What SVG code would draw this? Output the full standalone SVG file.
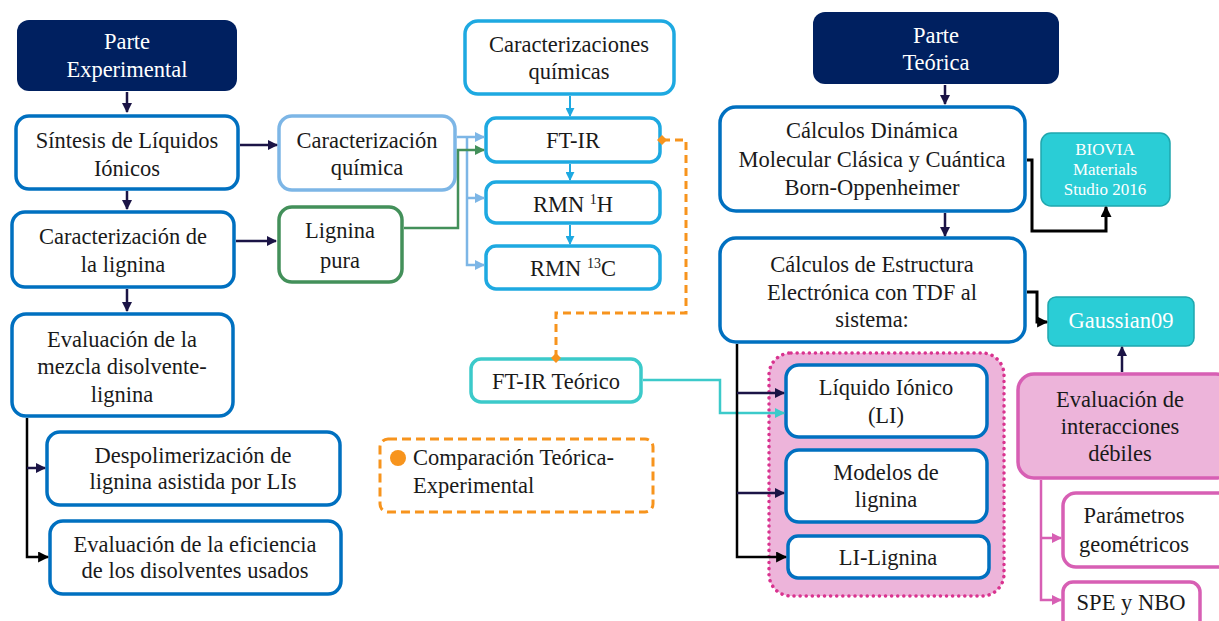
<svg xmlns="http://www.w3.org/2000/svg" width="1219" height="621" viewBox="0 0 1219 621" font-family="'Liberation Serif', serif">
<defs>
<style>
text{font-family:'Liberation Serif', serif;font-size:22.5px;fill:#1a1a1a;text-anchor:middle}
.w{fill:#ffffff}
.sm{font-size:17px}
.head{fill:#002060;stroke:none}
.bx{fill:#fff;stroke:#0070C0;stroke-width:3.5}
.lb{fill:#fff;stroke:#7DB6E6;stroke-width:3.5}
.cy{fill:#fff;stroke:#1EA9E1;stroke-width:3.5}
.gr{fill:#fff;stroke:#43905A;stroke-width:3.5}
.tq{fill:#fff;stroke:#3CCACA;stroke-width:3.5}
.teal{fill:#2ACDD6;stroke:#1FA7AE;stroke-width:1.5}
.pk{fill:#fff;stroke:#D75FB4;stroke-width:3.5}
.pkf{fill:#EDB4DA;stroke:#D75FB4;stroke-width:3.5}
.c{fill:none}
</style>
<marker id="aN" viewBox="0 0 10 10" refX="9" refY="5" markerWidth="10" markerHeight="10" markerUnits="userSpaceOnUse" orient="auto"><path d="M0,0 L10,5 L0,10 z" fill="#1B1446"/></marker>
<marker id="aK" viewBox="0 0 10 10" refX="9" refY="5" markerWidth="11" markerHeight="11" markerUnits="userSpaceOnUse" orient="auto"><path d="M0,0 L10,5 L0,10 z" fill="#000"/></marker>
<marker id="aL" viewBox="0 0 10 10" refX="9" refY="5" markerWidth="10" markerHeight="10" markerUnits="userSpaceOnUse" orient="auto"><path d="M0,0 L10,5 L0,10 z" fill="#7DB6E6"/></marker>
<marker id="aC" viewBox="0 0 10 10" refX="9" refY="5" markerWidth="9" markerHeight="9" markerUnits="userSpaceOnUse" orient="auto"><path d="M0,0 L10,5 L0,10 z" fill="#1EA9E1"/></marker>
<marker id="aG" viewBox="0 0 10 10" refX="9" refY="5" markerWidth="10" markerHeight="10" markerUnits="userSpaceOnUse" orient="auto"><path d="M0,0 L10,5 L0,10 z" fill="#43905A"/></marker>
<marker id="aT" viewBox="0 0 10 10" refX="9" refY="5" markerWidth="10" markerHeight="10" markerUnits="userSpaceOnUse" orient="auto"><path d="M0,0 L10,5 L0,10 z" fill="#3CCACA"/></marker>
<marker id="aP" viewBox="0 0 10 10" refX="9" refY="5" markerWidth="10" markerHeight="10" markerUnits="userSpaceOnUse" orient="auto"><path d="M0,0 L10,5 L0,10 z" fill="#D75FB4"/></marker>
<marker id="dO" viewBox="0 0 10 10" refX="5" refY="5" markerWidth="10" markerHeight="10" markerUnits="userSpaceOnUse" orient="auto"><path d="M0,5 L5,0 L10,5 L5,10 z" fill="#F7941D"/></marker>
</defs>

<g id="grupo-sistema">
<rect x="769" y="353" width="235" height="243" rx="22" fill="#EDB4DA" stroke="#D9338F" stroke-width="3.5" stroke-dasharray="0.1 6" stroke-linecap="round"/>
</g>

<g id="parte-experimental">
<rect class="head" x="17" y="20" width="220" height="71" rx="12"/>
<text class="w" x="127" y="49">Parte</text>
<text class="w" x="127" y="77">Experimental</text>
</g>
<g id="sintesis">
<rect class="bx" x="16" y="116" width="222" height="73" rx="13"/>
<text x="127" y="148">Síntesis de Líquidos</text>
<text x="127" y="176">Iónicos</text>
</g>
<g id="caracterizacion-quimica">
<rect class="lb" x="279" y="116" width="176" height="74" rx="13"/>
<text x="367" y="148">Caracterización</text>
<text x="367" y="175">química</text>
</g>
<g id="caracterizacion-lignina">
<rect class="bx" x="12" y="212" width="222" height="75" rx="13"/>
<text x="123" y="244">Caracterización de</text>
<text x="123" y="272">la lignina</text>
</g>
<g id="lignina-pura">
<rect class="gr" x="279" y="207" width="123" height="75" rx="13"/>
<text x="340" y="238">Lignina</text>
<text x="340" y="268">pura</text>
</g>
<g id="evaluacion-mezcla">
<rect class="bx" x="12" y="314" width="221" height="102" rx="14"/>
<text x="122" y="347">Evaluación de la</text>
<text x="122" y="374">mezcla disolvente-</text>
<text x="122" y="402">lignina</text>
</g>
<g id="despolimerizacion">
<rect class="bx" x="47" y="432" width="293" height="73" rx="13"/>
<text x="193" y="463">Despolimerización de</text>
<text x="193" y="489">lignina asistida por LIs</text>
</g>
<g id="evaluacion-eficiencia">
<rect class="bx" x="50" y="521" width="291" height="73" rx="13"/>
<text x="195" y="552">Evaluación de la eficiencia</text>
<text x="195" y="578">de los disolventes usados</text>
</g>

<g id="caracterizaciones-quimicas">
<rect class="cy" x="465" y="21" width="209" height="73" rx="13"/>
<text x="569" y="52">Caracterizaciones</text>
<text x="569" y="79">químicas</text>
</g>
<g id="ft-ir">
<rect class="cy" x="486" y="118" width="174" height="44" rx="10"/>
<text x="573" y="148">FT-IR</text>
</g>
<g id="rmn-1h">
<rect class="cy" x="486" y="182" width="174" height="41" rx="10"/>
<text x="573" y="212">RMN <tspan font-size="14" dy="-8">1</tspan><tspan dy="8">H</tspan></text>
</g>
<g id="rmn-13c">
<rect class="cy" x="486" y="246" width="174" height="43" rx="10"/>
<text x="573" y="276">RMN <tspan font-size="14" dy="-8">13</tspan><tspan dy="8">C</tspan></text>
</g>
<g id="ft-ir-teorico">
<rect class="tq" x="471" y="359" width="170" height="43" rx="10"/>
<text x="556" y="389">FT-IR Teórico</text>
</g>
<g id="leyenda-comparacion">
<rect x="380" y="439" width="273" height="73" rx="8" fill="#fff" stroke="#F7941D" stroke-width="3" stroke-dasharray="9 5"/>
<circle cx="398" cy="458" r="8" fill="#F7941D"/>
<text x="413" y="465" style="text-anchor:start">Comparación Teórica-</text>
<text x="413" y="493" style="text-anchor:start">Experimental</text>
</g>

<g id="parte-teorica">
<rect class="head" x="813" y="12" width="246" height="72" rx="12"/>
<text class="w" x="936" y="43">Parte</text>
<text class="w" x="936" y="70">Teórica</text>
</g>
<g id="calculos-dinamica">
<rect class="bx" x="720" y="107" width="305" height="104" rx="16"/>
<text x="872" y="138">Cálculos Dinámica</text>
<text x="872" y="167">Molecular Clásica y Cuántica</text>
<text x="872" y="195">Born-Oppenheimer</text>
</g>
<g id="biovia">
<rect class="teal" x="1041" y="133" width="129" height="73" rx="10"/>
<text class="w sm" x="1105" y="155">BIOVIA</text>
<text class="w sm" x="1105" y="175">Materials</text>
<text class="w sm" x="1105" y="195">Studio 2016</text>
</g>
<g id="calculos-estructura">
<rect class="bx" x="720" y="238" width="305" height="104" rx="16"/>
<text x="872" y="272">Cálculos de Estructura</text>
<text x="872" y="300">Electrónica con TDF al</text>
<text x="872" y="327">sistema:</text>
</g>
<g id="gaussian09">
<rect class="teal" x="1048" y="297" width="146" height="49" rx="8"/>
<text class="w" x="1121" y="328">Gaussian09</text>
</g>
<g id="liquido-ionico">
<rect class="bx" x="786" y="365" width="201" height="72" rx="13"/>
<text x="886" y="395">Líquido Iónico</text>
<text x="886" y="423">(LI)</text>
</g>
<g id="modelos-lignina">
<rect class="bx" x="786" y="450" width="201" height="72" rx="13"/>
<text x="886" y="480">Modelos de</text>
<text x="886" y="507">lignina</text>
</g>
<g id="li-lignina">
<rect class="bx" x="788" y="536" width="201" height="42" rx="10"/>
<text x="888" y="565">LI-Lignina</text>
</g>
<g id="evaluacion-interacciones">
<rect class="pkf" x="1018" y="374" width="214" height="104" rx="16"/>
<text x="1120" y="407">Evaluación de</text>
<text x="1120" y="434">interacciones</text>
<text x="1120" y="461">débiles</text>
</g>
<g id="parametros-geometricos">
<rect class="pk" x="1063" y="493" width="170" height="74" rx="13"/>
<text x="1134" y="523">Parámetros</text>
<text x="1134" y="552">geométricos</text>
</g>
<g id="spe-nbo">
<rect class="pk" x="1063" y="582" width="137" height="52" rx="10"/>
<text x="1131" y="610">SPE y NBO</text>
</g>

<g id="connectors" class="c">
<path d="M127,92 V112" stroke="#1B1446" stroke-width="2.5" marker-end="url(#aN)"/>
<path d="M127,191 V209" stroke="#1B1446" stroke-width="2.5" marker-end="url(#aN)"/>
<path d="M127,289 V311" stroke="#1B1446" stroke-width="2.5" marker-end="url(#aN)"/>
<path d="M240,145 H277" stroke="#1B1446" stroke-width="2.5" marker-end="url(#aN)"/>
<path d="M236,241 H276" stroke="#1B1446" stroke-width="2.5" marker-end="url(#aN)"/>
<path d="M27,418 V557 H48" stroke="#000" stroke-width="2.5" marker-end="url(#aK)"/>
<path d="M27,468 H45" stroke="#1B1446" stroke-width="2.5" marker-end="url(#aN)"/>
<path d="M457,137 H484" stroke="#7DB6E6" stroke-width="2.5" marker-end="url(#aL)"/>
<path d="M467,137 V265 H484" stroke="#7DB6E6" stroke-width="2.5" marker-end="url(#aL)"/>
<path d="M467,198 H484" stroke="#7DB6E6" stroke-width="2.5" marker-end="url(#aL)"/>
<path d="M404,228 H458 V150 H484" stroke="#43905A" stroke-width="2.5" marker-end="url(#aG)"/>
<path d="M570,96 V116" stroke="#1EA9E1" stroke-width="2" marker-end="url(#aC)"/>
<path d="M570,164 V180" stroke="#1EA9E1" stroke-width="2" marker-end="url(#aC)"/>
<path d="M570,225 V244" stroke="#1EA9E1" stroke-width="2" marker-end="url(#aC)"/>
<path d="M662,140 H686 V313 H556 V358" stroke="#F7941D" stroke-width="3" stroke-dasharray="8 5" marker-start="url(#dO)" marker-end="url(#dO)"/>
<path d="M643,380 H720 V413 H784" stroke="#3CCACA" stroke-width="2.5" marker-end="url(#aT)"/>
<path d="M945,85 V104" stroke="#1B1446" stroke-width="2.5" marker-end="url(#aN)"/>
<path d="M945,213 V236" stroke="#1B1446" stroke-width="2.5" marker-end="url(#aN)"/>
<path d="M1027,160 H1032 V231 H1106 V207" stroke="#000" stroke-width="3" marker-end="url(#aK)"/>
<path d="M1027,292 H1037 V322 H1047" stroke="#000" stroke-width="3" marker-end="url(#aK)"/>
<path d="M1122,372 V347" stroke="#1B1446" stroke-width="2.5" marker-end="url(#aN)"/>
<path d="M737,344 V557 H786" stroke="#000" stroke-width="2.5" marker-end="url(#aK)"/>
<path d="M737,393 H784" stroke="#1B1446" stroke-width="2.5" marker-end="url(#aN)"/>
<path d="M737,493 H784" stroke="#1B1446" stroke-width="2.5" marker-end="url(#aN)"/>
<path d="M1041,480 V600 H1061" stroke="#D75FB4" stroke-width="2.5" marker-end="url(#aP)"/>
<path d="M1041,538 H1061" stroke="#D75FB4" stroke-width="2.5" marker-end="url(#aP)"/>
</g>
</svg>
